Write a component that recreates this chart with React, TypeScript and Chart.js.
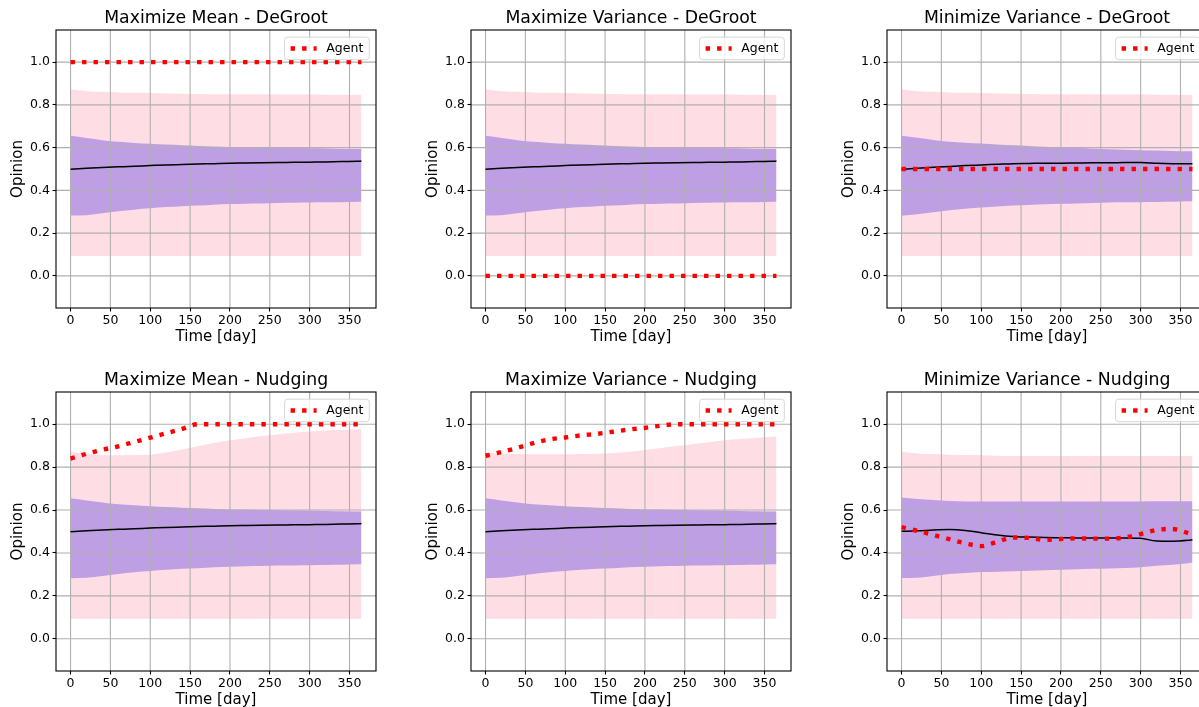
import React, { useEffect, useRef } from 'react';
import { Chart, registerables } from 'chart.js';

Chart.register(...registerables);
Chart.defaults.font.family = "'DejaVu Sans', sans-serif";
Chart.defaults.color = '#000';

// ---------- data ----------
const days = [0, 20, 40, 60, 80, 100, 120, 140, 160, 180, 200, 220, 240, 260, 280, 300, 320, 340, 360, 365];
const xTicks = [0, 50, 100, 150, 200, 250, 300, 350];
const yTicks = [0.0, 0.2, 0.4, 0.6, 0.8, 1.0];

// DeGroot-style shared bands / mean
const meanDeGroot = [0.499, 0.503, 0.507, 0.510, 0.513, 0.516, 0.519, 0.521, 0.523, 0.525, 0.527, 0.528, 0.529, 0.530, 0.531, 0.532, 0.533, 0.535, 0.536, 0.537];
const innerUpperDeGroot = [0.655, 0.645, 0.635, 0.627, 0.622, 0.618, 0.614, 0.611, 0.608, 0.605, 0.603, 0.602, 0.600, 0.599, 0.598, 0.597, 0.596, 0.594, 0.593, 0.593];
const innerLowerDeGroot = [0.282, 0.284, 0.293, 0.302, 0.310, 0.316, 0.322, 0.326, 0.329, 0.333, 0.336, 0.338, 0.339, 0.341, 0.342, 0.343, 0.344, 0.345, 0.347, 0.347];
const outerUpperDeGroot = [0.873, 0.864, 0.861, 0.858, 0.856, 0.855, 0.853, 0.852, 0.851, 0.850, 0.850, 0.849, 0.849, 0.848, 0.848, 0.848, 0.847, 0.847, 0.847, 0.847];
const outerLower = [0.093, 0.093, 0.093, 0.093, 0.093, 0.093, 0.093, 0.093, 0.093, 0.093, 0.093, 0.093, 0.093, 0.093, 0.093, 0.093, 0.093, 0.093, 0.093, 0.093];

// Minimize Variance - DeGroot
const meanMinVarDeGroot = [0.499, 0.503, 0.508, 0.512, 0.516, 0.519, 0.522, 0.525, 0.526, 0.527, 0.527, 0.528, 0.529, 0.529, 0.530, 0.530, 0.527, 0.525, 0.524, 0.524];
const innerUpperMinVarDeGroot = [0.655, 0.646, 0.636, 0.628, 0.623, 0.619, 0.615, 0.611, 0.608, 0.604, 0.600, 0.598, 0.595, 0.592, 0.590, 0.588, 0.586, 0.584, 0.583, 0.583];
const innerLowerMinVarDeGroot = [0.281, 0.288, 0.298, 0.307, 0.314, 0.320, 0.325, 0.329, 0.332, 0.335, 0.337, 0.339, 0.341, 0.343, 0.344, 0.345, 0.346, 0.347, 0.349, 0.349];

// Agents (DeGroot)
const agentMaxMeanDeGroot = [1.0, 1.0, 1.0, 1.0, 1.0, 1.0, 1.0, 1.0, 1.0, 1.0, 1.0, 1.0, 1.0, 1.0, 1.0, 1.0, 1.0, 1.0, 1.0, 1.0];
const agentMaxVarDeGroot = [0.0, 0.0, 0.0, 0.0, 0.0, 0.0, 0.0, 0.0, 0.0, 0.0, 0.0, 0.0, 0.0, 0.0, 0.0, 0.0, 0.0, 0.0, 0.0, 0.0];
const agentMinVarDeGroot = [0.5, 0.5, 0.5, 0.5, 0.5, 0.5, 0.5, 0.5, 0.5, 0.5, 0.5, 0.5, 0.5, 0.5, 0.5, 0.5, 0.5, 0.5, 0.5, 0.5];

// Maximize Mean - Nudging
const agentMaxMeanNudging = [0.840, 0.862, 0.881, 0.897, 0.917, 0.937, 0.958, 0.978, 1.0, 1.0, 1.0, 1.0, 1.0, 1.0, 1.0, 1.0, 1.0, 1.0, 1.0, 1.0];
const outerUpperMaxMeanNudging = [0.871, 0.862, 0.857, 0.855, 0.856, 0.858, 0.868, 0.882, 0.897, 0.912, 0.925, 0.935, 0.945, 0.952, 0.960, 0.966, 0.971, 0.974, 0.976, 0.977];

// Maximize Variance - Nudging
const agentMaxVarNudging = [0.853, 0.870, 0.890, 0.912, 0.929, 0.938, 0.948, 0.955, 0.965, 0.975, 0.983, 0.993, 1.0, 1.0, 1.0, 1.0, 1.0, 1.0, 1.0, 1.0];
const outerUpperMaxVarNudging = [0.866, 0.862, 0.861, 0.860, 0.860, 0.860, 0.861, 0.862, 0.866, 0.872, 0.880, 0.889, 0.898, 0.907, 0.916, 0.925, 0.931, 0.937, 0.942, 0.944];

// Minimize Variance - Nudging
const agentMinVarNudging = [0.520, 0.503, 0.484, 0.464, 0.445, 0.432, 0.452, 0.472, 0.470, 0.461, 0.465, 0.468, 0.467, 0.467, 0.472, 0.488, 0.507, 0.512, 0.492, 0.486];
const meanMinVarNudging = [0.501, 0.503, 0.507, 0.509, 0.505, 0.494, 0.484, 0.477, 0.474, 0.472, 0.471, 0.470, 0.470, 0.470, 0.470, 0.468, 0.456, 0.455, 0.459, 0.461];
const innerUpperMinVarNudging = [0.658, 0.652, 0.647, 0.642, 0.640, 0.640, 0.640, 0.640, 0.640, 0.640, 0.640, 0.640, 0.640, 0.640, 0.640, 0.640, 0.641, 0.641, 0.641, 0.641];
const innerLowerMinVarNudging = [0.283, 0.285, 0.293, 0.302, 0.307, 0.311, 0.313, 0.315, 0.317, 0.319, 0.322, 0.324, 0.326, 0.328, 0.330, 0.334, 0.340, 0.345, 0.352, 0.355];
const outerUpperMinVarNudging = [0.872, 0.864, 0.861, 0.858, 0.856, 0.855, 0.853, 0.852, 0.852, 0.852, 0.852, 0.852, 0.852, 0.852, 0.852, 0.852, 0.852, 0.852, 0.852, 0.852];

const titles = [
  'Maximize Mean - DeGroot', 'Maximize Variance - DeGroot', 'Minimize Variance - DeGroot',
  'Maximize Mean - Nudging', 'Maximize Variance - Nudging', 'Minimize Variance - Nudging',
];

// ---------- styles / layout ----------
const PINK = '#ffdde4';
const PURPLE = '#bf9fe4';
const RED = '#ff0000';
const GRID = '#b0b0b0';
const Y_AXIS_W = 56;
const RIGHT_PAD = 56;
const TITLE_H = 30;
const X_AXIS_H = 40;
const PLOT_W = 320;
const colLeft = [56, 471, 887];
const rowTop = [30, 392];
const rowPlotH = [278, 279];

type PanelCfg = {
  title: string;
  col: number;
  row: number;
  agent: number[];
  mean: number[];
  innerUpper: number[];
  innerLower: number[];
  outerUpper: number[];
  outerLower: number[];
};

const panels: PanelCfg[] = [
  { title: titles[0], col: 0, row: 0, agent: agentMaxMeanDeGroot, mean: meanDeGroot, innerUpper: innerUpperDeGroot, innerLower: innerLowerDeGroot, outerUpper: outerUpperDeGroot, outerLower },
  { title: titles[1], col: 1, row: 0, agent: agentMaxVarDeGroot, mean: meanDeGroot, innerUpper: innerUpperDeGroot, innerLower: innerLowerDeGroot, outerUpper: outerUpperDeGroot, outerLower },
  { title: titles[2], col: 2, row: 0, agent: agentMinVarDeGroot, mean: meanMinVarDeGroot, innerUpper: innerUpperMinVarDeGroot, innerLower: innerLowerMinVarDeGroot, outerUpper: outerUpperDeGroot, outerLower },
  { title: titles[3], col: 0, row: 1, agent: agentMaxMeanNudging, mean: meanDeGroot, innerUpper: innerUpperDeGroot, innerLower: innerLowerDeGroot, outerUpper: outerUpperMaxMeanNudging, outerLower },
  { title: titles[4], col: 1, row: 1, agent: agentMaxVarNudging, mean: meanDeGroot, innerUpper: innerUpperDeGroot, innerLower: innerLowerDeGroot, outerUpper: outerUpperMaxVarNudging, outerLower },
  { title: titles[5], col: 2, row: 1, agent: agentMinVarNudging, mean: meanMinVarNudging, innerUpper: innerUpperMinVarNudging, innerLower: innerLowerMinVarNudging, outerUpper: outerUpperMinVarNudging, outerLower },
];

const pts = (vals: number[]) => days.map((d, i) => ({ x: d, y: vals[i] }));

const framePlugin = {
  id: 'mplFrame',
  beforeDatasetsDraw(chart: any) {
    const { ctx, chartArea: ca, scales } = chart;
    ctx.save();
    ctx.beginPath();
    ctx.rect(ca.left, ca.top, ca.right - ca.left, ca.bottom - ca.top);
    ctx.clip();
    ctx.strokeStyle = GRID;
    ctx.lineWidth = 1.1;
    for (const v of xTicks) {
      const px = scales.x.getPixelForValue(v);
      ctx.beginPath();
      ctx.moveTo(px, ca.top);
      ctx.lineTo(px, ca.bottom);
      ctx.stroke();
    }
    for (const v of yTicks) {
      const py = scales.y.getPixelForValue(v);
      ctx.beginPath();
      ctx.moveTo(ca.left, py);
      ctx.lineTo(ca.right, py);
      ctx.stroke();
    }
    ctx.restore();
  },
  afterDatasetsDraw(chart: any) {
    const { ctx, chartArea: ca } = chart;
    ctx.save();
    ctx.strokeStyle = '#000';
    ctx.lineWidth = 1.1;
    ctx.strokeRect(ca.left, ca.top, ca.right - ca.left, ca.bottom - ca.top);
    // legend
    const w = 84.7, h = 22.5;
    const x = ca.right - 6.7 - w;
    const y = ca.top + 7.2;
    ctx.beginPath();
    (ctx as any).roundRect(x, y, w, h, 3);
    ctx.fillStyle = 'rgba(255,255,255,0.8)';
    ctx.fill();
    ctx.strokeStyle = '#d6d6d6';
    ctx.lineWidth = 1;
    ctx.stroke();
    const label = chart.data.datasets[0].label;
    ctx.beginPath();
    ctx.setLineDash([4.4, 7.1]);
    ctx.strokeStyle = RED;
    ctx.lineWidth = 4.4;
    ctx.moveTo(x + 6, y + h / 2);
    ctx.lineTo(x + 32, y + h / 2);
    ctx.stroke();
    ctx.setLineDash([]);
    ctx.fillStyle = '#000';
    ctx.font = "12.5px 'DejaVu Sans', sans-serif";
    ctx.textBaseline = 'middle';
    ctx.textAlign = 'left';
    ctx.fillText(label, x + 41.7, y + h / 2 + 0.5);
    ctx.restore();
  },
};

function Panel({ cfg }: { cfg: PanelCfg }) {
  const ref = useRef<HTMLCanvasElement>(null);
  const plotH = rowPlotH[cfg.row];
  const width = Y_AXIS_W + PLOT_W + RIGHT_PAD;
  const height = TITLE_H + plotH + X_AXIS_H;
  const left = colLeft[cfg.col] - Y_AXIS_W;
  const top = rowTop[cfg.row] - TITLE_H;

  useEffect(() => {
    const base = { pointRadius: 0, cubicInterpolationMode: 'monotone' as const };
    const band = { ...base, borderWidth: 0, borderColor: 'rgba(0,0,0,0)' };
    const chart = new Chart(ref.current!, {
      type: 'line',
      data: {
        datasets: [
          { ...base, label: 'Agent', data: pts(cfg.agent), borderColor: RED, borderWidth: 4.4, borderDash: [4.4, 7.1], borderCapStyle: 'butt', fill: false },
          { ...base, label: 'Mean', data: pts(cfg.mean), borderColor: '#000', borderWidth: 1.5, fill: false },
          { ...band, label: 'Inner upper', data: pts(cfg.innerUpper), backgroundColor: PURPLE, fill: '+1' },
          { ...band, label: 'Inner lower', data: pts(cfg.innerLower), fill: false },
          { ...band, label: 'Outer upper', data: pts(cfg.outerUpper), backgroundColor: PINK, fill: '+1' },
          { ...band, label: 'Outer lower', data: pts(cfg.outerLower), fill: false },
        ] as any,
      },
      options: {
        animation: false,
        responsive: false,
        devicePixelRatio: 1,
        events: [],
        layout: { padding: 0 },
        plugins: {
          legend: { display: false },
          tooltip: { enabled: false },
          filler: { drawTime: 'beforeDatasetsDraw' },
          title: {
            display: true,
            text: cfg.title,
            color: '#000',
            font: { size: 17.3, weight: 'normal' },
            padding: { top: 8.6, bottom: 0.64 },
          },
        },
        scales: {
          x: {
            type: 'linear',
            min: -18.25,
            max: 383.25,
            afterBuildTicks: (s: any) => { s.ticks = xTicks.map((v) => ({ value: v })); },
            afterFit: (s: any) => { s.height = X_AXIS_H; },
            border: { display: false },
            grid: { drawOnChartArea: false, tickLength: 3.5, tickColor: '#000', tickWidth: 1.1 },
            ticks: { font: { size: 12.5 }, color: '#000', padding: 2, maxRotation: 0, autoSkip: false, callback: (v: any) => String(v) },
            title: { display: true, text: 'Time [day]', color: '#000', font: { size: 15 }, padding: { top: 0, bottom: 2 } },
          },
          y: {
            type: 'linear',
            position: 'left',
            min: -0.15,
            max: 1.15,
            afterBuildTicks: (s: any) => { s.ticks = yTicks.map((v) => ({ value: v })); },
            afterFit: (s: any) => { s.width = Y_AXIS_W; },
            border: { display: false },
            grid: { drawOnChartArea: false, tickLength: 3.5, tickColor: '#000', tickWidth: 1.1 },
            ticks: { font: { size: 12.5 }, color: '#000', padding: 2.5, autoSkip: false, callback: (v: any) => Number(v).toFixed(1) },
            title: { display: true, text: 'Opinion', color: '#000', font: { size: 15 }, padding: { top: 9.4, bottom: 0 } },
          },
          spacer: {
            type: 'linear',
            position: 'right',
            display: true,
            min: -0.15,
            max: 1.15,
            afterFit: (s: any) => { s.width = RIGHT_PAD; },
            border: { display: false },
            grid: { display: false },
            ticks: { display: false },
            title: { display: false },
          },
        },
      } as any,
      plugins: [framePlugin],
    });
    return () => chart.destroy();
  }, []);

  return (
    <canvas
      ref={ref}
      width={width}
      height={height}
      style={{ position: 'absolute', left, top, width, height }}
    />
  );
}

export default function App() {
  return (
    <div style={{ position: 'absolute', left: 0, top: 0, width: 1199, height: 707, overflow: 'hidden', background: '#fff' }}>
      {panels.map((p, i) => (
        <Panel key={i} cfg={p} />
      ))}
    </div>
  );
}
